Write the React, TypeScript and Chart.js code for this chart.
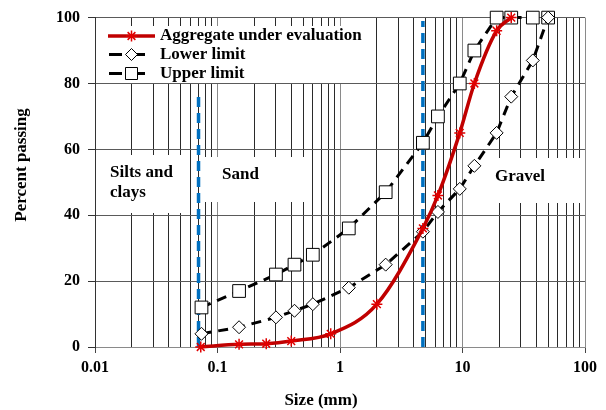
import React, { useEffect, useRef } from 'react';
import { Chart, registerables } from 'chart.js';

Chart.register(...registerables);

// ---- Data ----
const sieveAggregate = [0.073, 0.15, 0.25, 0.4, 0.84, 2, 4.75, 6.3, 9.5, 12.5, 19, 25];
const passingAggregate = [0, 0.8, 1, 1.8, 4, 13, 36, 46, 65, 80, 96, 100];
const sieveLower = [0.074, 0.15, 0.3, 0.425, 0.6, 1.18, 2.36, 4.75, 6.3, 9.5, 12.5, 19, 25, 37.5, 50];
const passingLower = [4, 6, 9, 11, 13, 18, 25, 35, 41, 48, 55, 65, 76, 87, 100];
const sieveUpper = [0.074, 0.15, 0.3, 0.425, 0.6, 1.18, 2.36, 4.75, 6.3, 9.5, 12.5, 19, 25, 37.5, 50];
const passingUpper = [12, 17, 22, 25, 28, 36, 47, 62, 70, 80, 90, 100, 100, 100, 100];
const boundarySizes = [0.07, 4.75];
const boundaryTops = [77, 99];
const seriesNames = ['Aggregate under evaluation', 'Lower limit', 'Upper limit'];
const xTickValues = [0.01, 0.1, 1, 10, 100];
const xTickLabels = ['0.01', '0.1', '1', '10', '100'];
const yTickLabels = ['0', '20', '40', '60', '80', '100'];
const zoneLabels = [['Silts and', 'clays'], ['Sand'], ['Gravel']];
const xTitle = 'Size (mm)';
const yTitle = 'Percent passing';

const FONT = '"Liberation Serif", "Times New Roman", serif';
const RED = '#c00000';
const BLUE = '#0070c0';

const decadeIndex = (v: number) => xTickValues.findIndex((d) => Math.abs(Math.log10(v) - Math.log10(d)) < 1e-6);

const gridValues: number[] = [];
for (let i = 0; i < xTickValues.length - 1; i++) {
  for (let m = 1; m <= 9; m++) gridValues.push(xTickValues[i] * m);
}
gridValues.push(xTickValues[xTickValues.length - 1]);

function drawStar(ctx: CanvasRenderingContext2D, x: number, y: number, r: number) {
  ctx.beginPath();
  ctx.moveTo(x - r, y); ctx.lineTo(x + r, y);
  ctx.moveTo(x, y - r); ctx.lineTo(x, y + r);
  const d = r * Math.SQRT1_2;
  ctx.moveTo(x - d, y - d); ctx.lineTo(x + d, y + d);
  ctx.moveTo(x - d, y + d); ctx.lineTo(x + d, y - d);
  ctx.stroke();
}

const overlayPlugin = {
  id: 'overlay',
  beforeDatasetsDraw(chart: any) {
    chart._boxesDrawn = false;
  },
  beforeDatasetDraw(chart: any, args: any) {
    if (chart._boxesDrawn || args.index >= 3) return;
    chart._boxesDrawn = true;
    const ctx: CanvasRenderingContext2D = chart.ctx;
    ctx.save();
    ctx.fillStyle = '#ffffff';
    // legend box
    ctx.fillRect(103, 26, 265, 57);
    // zone boxes
    ctx.fillRect(96, 155, 92, 58);
    ctx.fillRect(202, 157, 108, 45);
    ctx.fillRect(488, 158, 96, 45);

    ctx.fillStyle = '#000';
    ctx.font = `bold 17px ${FONT}`;
    ctx.textBaseline = 'middle';
    ctx.textAlign = 'left';
    ctx.fillText(zoneLabels[0][0], 110, 173);
    ctx.fillText(zoneLabels[0][1], 110, 193);
    ctx.fillText(zoneLabels[1][0], 222, 175);
    ctx.fillText(zoneLabels[2][0], 495, 177);

    // legend entries
    const ys = [36, 54.5, 73.5];
    ctx.fillText(seriesNames[0], 160, ys[0]);
    ctx.fillText(seriesNames[1], 160, ys[1]);
    ctx.fillText(seriesNames[2], 160, ys[2]);

    ctx.strokeStyle = RED;
    ctx.lineWidth = 3.5;
    ctx.beginPath(); ctx.moveTo(108, ys[0]); ctx.lineTo(155, ys[0]); ctx.stroke();
    ctx.lineWidth = 1.5;
    ctx.strokeStyle = '#e00000';
    drawStar(ctx, 131.5, ys[0], 5.5);

    ctx.strokeStyle = '#000';
    ctx.lineWidth = 3;
    for (const y of [ys[1], ys[2]]) {
      ctx.beginPath();
      ctx.moveTo(109, y); ctx.lineTo(122, y);
      ctx.moveTo(137, y); ctx.lineTo(145, y);
      ctx.stroke();
    }
    ctx.lineWidth = 1;
    ctx.fillStyle = '#fff';
    // diamond
    ctx.beginPath();
    ctx.moveTo(131.5, ys[1] - 6); ctx.lineTo(137.5, ys[1]); ctx.lineTo(131.5, ys[1] + 6); ctx.lineTo(125.5, ys[1]);
    ctx.closePath(); ctx.fill(); ctx.stroke();
    // square
    ctx.beginPath();
    ctx.rect(125.5, ys[2] - 6, 12, 12);
    ctx.fill(); ctx.stroke();
    ctx.restore();
  },
  afterDraw(chart: any) {
    const ctx: CanvasRenderingContext2D = chart.ctx;
    ctx.save();
    ctx.fillStyle = '#000';
    ctx.font = `bold 17px ${FONT}`;
    ctx.textAlign = 'center';
    ctx.textBaseline = 'middle';
    ctx.fillText(xTitle, 321, 401);
    ctx.translate(22, 165);
    ctx.rotate(-Math.PI / 2);
    ctx.fillText(yTitle, 0, 0);
    ctx.restore();
  },
};

export default function App() {
  const canvasRef = useRef<HTMLCanvasElement>(null);

  useEffect(() => {
    document.body.style.margin = '0';
    const canvas = canvasRef.current;
    if (!canvas) return;

    const toPoints = (xs: number[], ys: number[]) => xs.map((x, i) => ({ x, y: ys[i] }));

    const chart = new Chart(canvas, {
      type: 'scatter',
      data: {
        datasets: [
          {
            label: seriesNames[0],
            data: toPoints(sieveAggregate, passingAggregate),
            showLine: true,
            borderColor: RED,
            borderWidth: 3.5,
            cubicInterpolationMode: 'monotone',
            pointStyle: 'star',
            pointRadius: 5.5,
            pointBorderColor: '#e00000',
            pointBorderWidth: 1.5,
            pointBackgroundColor: '#e00000',
            clip: false,
            order: 1,
          } as any,
          {
            label: seriesNames[1],
            data: toPoints(sieveLower, passingLower),
            showLine: true,
            borderColor: '#000',
            borderWidth: 3,
            borderDash: [10, 7],
            pointStyle: 'rectRot',
            pointRadius: 6.5,
            pointBackgroundColor: '#fff',
            pointBorderColor: '#000',
            pointBorderWidth: 1,
            clip: false,
            order: 2,
          } as any,
          {
            label: seriesNames[2],
            data: toPoints(sieveUpper, passingUpper),
            showLine: true,
            borderColor: '#000',
            borderWidth: 3,
            borderDash: [10, 7],
            pointStyle: 'rect',
            pointRadius: 9,
            pointBackgroundColor: '#fff',
            pointBorderColor: '#000',
            pointBorderWidth: 1,
            clip: false,
            order: 3,
          } as any,
          {
            label: 'boundary1',
            data: [{ x: boundarySizes[0], y: 0 }, { x: boundarySizes[0], y: boundaryTops[0] }],
            showLine: true,
            borderColor: BLUE,
            borderWidth: 3.5,
            borderDash: [10, 6],
            pointRadius: 0,
            clip: false,
            order: 5,
          } as any,
          {
            label: 'boundary2',
            data: [{ x: boundarySizes[1], y: 0 }, { x: boundarySizes[1], y: boundaryTops[1] }],
            showLine: true,
            borderColor: BLUE,
            borderWidth: 3.5,
            borderDash: [10, 6],
            pointRadius: 0,
            clip: false,
            order: 5,
          } as any,
        ],
      },
      options: {
        responsive: false,
        animation: false,
        devicePixelRatio: 1,
        layout: { padding: { top: 16, right: 21, left: 0, bottom: 0 } },
        plugins: {
          legend: { display: false },
          tooltip: { enabled: false },
        },
        scales: {
          x: {
            type: 'logarithmic',
            min: 0.01,
            max: 100,
            afterBuildTicks: (scale: any) => {
              scale.ticks = gridValues.map((v) => ({ value: v, major: decadeIndex(v) >= 0 }));
            },
            afterFit: (scale: any) => {
              scale.height = 63;
            },
            ticks: {
              autoSkip: false,
              maxRotation: 0,
              padding: 5,
              color: '#000',
              font: { family: FONT, size: 16, weight: 'bold' },
              callback: (value: any) => {
                const i = decadeIndex(Number(value));
                return i >= 0 ? xTickLabels[i] : '';
              },
            },
            grid: {
              color: (ctx: any) => (ctx.tick && decadeIndex(ctx.tick.value) >= 0 ? '#8a8a8a' : '#2a2a2a'),
              lineWidth: 1,
              tickLength: 6,
              tickColor: (ctx: any) => (ctx.tick && decadeIndex(ctx.tick.value) >= 0 ? '#444' : 'rgba(0,0,0,0)'),
            },
            border: { color: '#8a8a8a', width: 1 },
          },
          y: {
            type: 'linear',
            min: 0,
            max: 100,
            afterFit: (scale: any) => {
              scale.width = 95;
            },
            ticks: {
              stepSize: 20,
              padding: 8,
              color: '#000',
              font: { family: FONT, size: 16, weight: 'bold' },
              callback: (value: any) => {
                const i = Math.round(Number(value) / 20);
                return yTickLabels[i] ?? '';
              },
            },
            grid: {
              color: '#5a5a5a',
              lineWidth: 1,
              tickLength: 7,
              tickColor: '#333',
            },
            border: { color: '#333', width: 1 },
          },
        },
      } as any,
      plugins: [overlayPlugin],
    });

    return () => {
      chart.destroy();
    };
  }, []);

  return (
    <div style={{ width: 606, height: 410 }}>
      <canvas ref={canvasRef} width={606} height={410} />
    </div>
  );
}
